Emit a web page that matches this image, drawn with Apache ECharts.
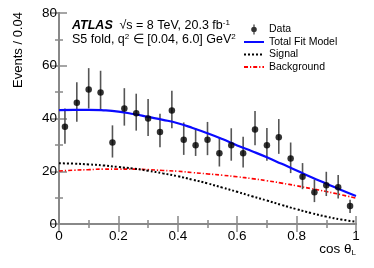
<!DOCTYPE html>
<html>
<head>
<meta charset="utf-8">
<script src="https://cdn.jsdelivr.net/npm/echarts@6/dist/echarts.min.js"></script>
<style>html,body{margin:0;padding:0;background:#fff}#c{width:374px;height:268px}</style>
</head>
<body>
<div id="c"></div>
<script>
// Data points (bin centres, counts, error bar ends)
const binCenters = [0.02,0.06,0.10,0.14,0.18,0.22,0.26,0.30,0.34,0.38,0.42,0.46,0.50,0.54,0.58,0.62,0.66,0.70,0.74,0.78,0.82,0.86,0.90,0.94,0.98];
const counts     = [36.9,46,51,49.9,30.9,43.8,42,40,34.9,43,31.9,29.9,31.9,26.8,29.9,26.8,35.8,29.9,32.9,24.8,17.9,12,14.7,13.9,6.8];
const errTop     = [43.8,53.7,59.1,58.1,37.4,51.5,49.4,47.4,41.8,50.5,38.5,36.3,38.7,32.9,36.3,33.1,42.8,36.4,39.8,30.9,23.1,16.8,19.8,18.6,9.2];
const errBottom  = [30.4,38.8,43.8,43.2,25.2,37.3,35.4,33.4,29.1,36.3,26.2,25.8,26.1,21.8,24.0,21.4,29.9,24.0,26.6,19.3,13.2,8.3,10.6,9.7,4.2];
// Fit curves sampled along cos(theta_L)
const curveX     = [0,0.05,0.1,0.15,0.2,0.25,0.3,0.35,0.4,0.45,0.5,0.55,0.6,0.65,0.7,0.75,0.8,0.85,0.9,0.95,1.0];
const totalFit   = [43.2,43.3,43.3,43.1,42.6,41.7,40.6,39.5,38.2,36.4,34.4,32.2,29.8,27.6,25.3,22.8,20.3,17.7,15.3,12.9,10.6];
const signal     = [23.0,22.9,22.6,22.2,21.6,21.0,20.2,19.2,18.1,16.8,15.4,13.8,12.2,10.5,8.9,7.2,5.6,4.1,2.8,1.7,0.9];
const background = [20.1,20.4,20.6,20.8,20.8,20.8,20.6,20.3,20.0,19.5,19.0,18.5,17.9,17.2,16.4,15.5,14.5,13.4,12.3,11.1,9.8];

const FONT = "'Liberation Sans', Arial, Helvetica, sans-serif";
const AX = '#888';
const pair = (xs, ys) => xs.map((x, i) => [x, ys[i]]);

const chart = echarts.init(document.getElementById('c'), null, {renderer: 'canvas'});

const axisCommon = {
  type: 'value',
  axisLine: {show: true, lineStyle: {color: AX, width: 2}},
  axisTick: {show: true, inside: true, length: 8, lineStyle: {color: AX, width: 1.5}},
  minorTick: {show: true, splitNumber: 2, length: 4, lineStyle: {color: AX, width: 1.5}},
  splitLine: {show: false},
  minorSplitLine: {show: false}
};
const noSym = {opacity: 0, color: 'rgba(0,0,0,0)', borderWidth: 0};

chart.setOption({
  animation: false,
  backgroundColor: '#fff',
  grid: {left: 59, right: 18, top: 13, bottom: 44, show: false},
  xAxis: [
    Object.assign({}, axisCommon, {
      position: 'bottom', min: 0, max: 1, interval: 0.2,
      axisLabel: {color: '#000', fontFamily: FONT, fontSize: 13.5, margin: 5}
    }),
    Object.assign({}, axisCommon, {
      position: 'top', min: 0, max: 1, interval: 0.2, axisLabel: {show: false}
    })
  ],
  yAxis: [
    Object.assign({}, axisCommon, {
      position: 'left', min: 0, max: 80, interval: 20,
      axisLabel: {color: '#000', fontFamily: FONT, fontSize: 13.5, margin: 2}
    }),
    Object.assign({}, axisCommon, {
      position: 'right', min: 0, max: 80, interval: 20, axisLabel: {show: false}
    })
  ],
  legend: {
    orient: 'vertical', left: 243, top: 24, padding: 0,
    itemWidth: 20, itemHeight: 10, itemGap: 1.5,
    textStyle: {fontFamily: FONT, fontSize: 10.5, color: '#000', lineHeight: 10},
    data: [
      {name: 'Data', icon: 'path://M-0.6,-5 L0.6,-5 L0.6,5 L-0.6,5 Z M0,-2.8 A2.8,2.8 0 1 1 0,2.8 A2.8,2.8 0 1 1 0,-2.8 Z'},
      {name: 'Total Fit Model', itemStyle: noSym},
      {name: 'Signal', itemStyle: noSym},
      {name: 'Background', itemStyle: noSym}
    ]
  },
  graphic: [
    {
      type: 'text', left: 72, top: 19,
      style: {
        text: '{b|ATLAS}  {n|√s = 8 TeV, 20.3 fb}{sup|-1}\n{n|S5 fold, q}{sup|2}{n| ∈ [0.04, 6.0] GeV}{sup|2}',
        rich: {
          b: {fontFamily: FONT, fontSize: 12.5, fontWeight: 'bold', fontStyle: 'italic', fill: '#000', lineHeight: 14},
          n: {fontFamily: FONT, fontSize: 12.5, fill: '#000', lineHeight: 14},
          sup: {fontFamily: FONT, fontSize: 8, fill: '#000', lineHeight: 14, verticalAlign: 'top', padding: [0, 0, 6, 0]}
        }
      }
    },
    {
      type: 'text', x: 18, y: 50, rotation: Math.PI / 2,
      style: {text: 'Events / 0.04', fontFamily: FONT, fontSize: 13, fill: '#000', align: 'center', verticalAlign: 'middle'}
    },
    {
      type: 'text', right: 18, top: 241,
      style: {
        text: '{a|cos θ}{s|L}',
        rich: {
          a: {fontFamily: FONT, fontSize: 13.5, fill: '#000', lineHeight: 16},
          s: {fontFamily: FONT, fontSize: 8, fill: '#000', lineHeight: 16, padding: [8, 0, 0, 0]}
        }
      }
    }
  ],
  series: [
    {
      name: 'errbars', type: 'custom', xAxisIndex: 0, yAxisIndex: 0,
      data: binCenters.map((x, i) => [x, errBottom[i], errTop[i]]),
      renderItem: function (params, api) {
        const p1 = api.coord([api.value(0), api.value(1)]);
        const p2 = api.coord([api.value(0), api.value(2)]);
        return {type: 'line', shape: {x1: p1[0], y1: p1[1], x2: p2[0], y2: p2[1]},
                style: {stroke: '#555', lineWidth: 1.6}};
      },
      z: 3
    },
    {
      name: 'Background', type: 'line', data: pair(curveX, background), smooth: true,
      symbol: 'none', lineStyle: {color: '#ff0000', width: 1.6, type: [4, 2, 1.2, 2]},
      itemStyle: {color: '#ff0000'}, z: 2
    },
    {
      name: 'Signal', type: 'line', data: pair(curveX, signal), smooth: true,
      symbol: 'none', lineStyle: {color: '#000', width: 2, type: [2, 2]},
      itemStyle: {color: '#000'}, z: 2
    },
    {
      name: 'Total Fit Model', type: 'line', data: pair(curveX, totalFit), smooth: true,
      symbol: 'none', lineStyle: {color: '#0a0aff', width: 2.2},
      itemStyle: {color: '#0a0aff'}, z: 4
    },
    {
      name: 'Data', type: 'scatter', data: pair(binCenters, counts),
      symbol: 'circle', symbolSize: 6.5, itemStyle: {color: '#000'}, z: 5
    }
  ]
});
</script>
</body>
</html>
